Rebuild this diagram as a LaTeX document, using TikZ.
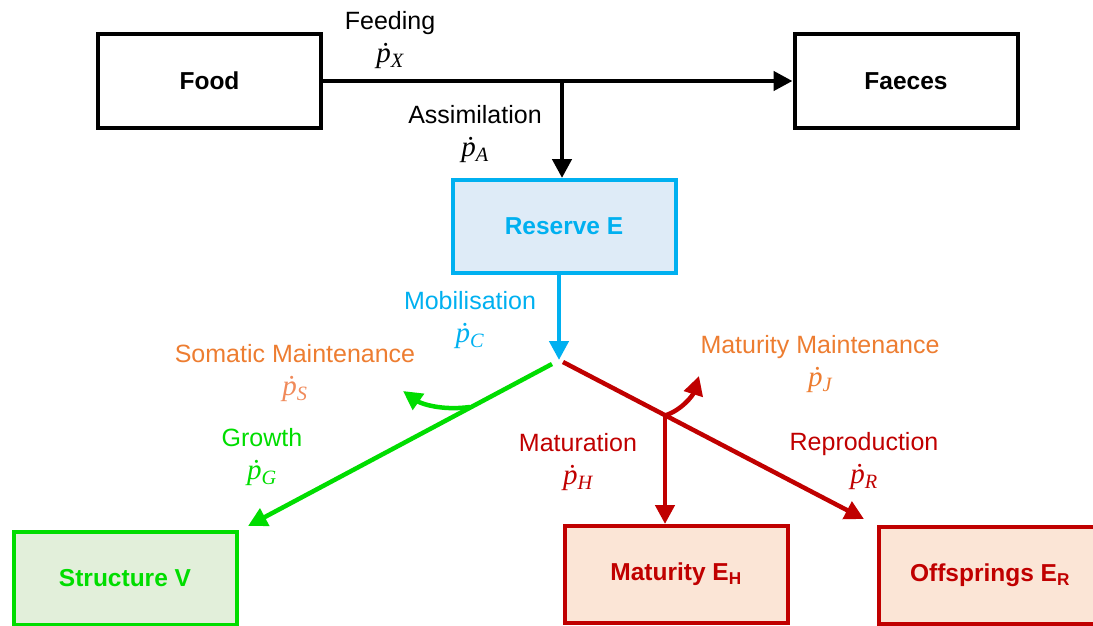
\documentclass[tikz,border=0pt]{standalone}
\usepackage{fontspec}
\setmainfont{Liberation Sans}
\newfontfamily\fluxfont{Liberation Serif}
\usetikzlibrary{arrows.meta}
\definecolor{cblue}{HTML}{00B0F0}
\definecolor{fblue}{HTML}{DEEBF7}
\definecolor{cgreen}{HTML}{00DD00}
\definecolor{fgreen}{HTML}{E2EFDA}
\definecolor{cred}{HTML}{C00000}
\definecolor{fred}{HTML}{FBE5D6}
\definecolor{corange}{HTML}{ED7D31}
\definecolor{csalmon}{HTML}{F08A5A}
\newcommand{\flux}[1]{{\fluxfont\itshape\fontsize{29}{29}\selectfont ṗ\textsubscript{#1}}}
\tikzset{
  box/.style={draw, line width=4pt, minimum width=223pt, minimum height=93pt, inner sep=0pt,
    font=\fontsize{24.5}{28}\selectfont\bfseries},
  lbl/.style={font=\fontsize{25}{33}\selectfont, inner sep=0pt, align=center},
  flow/.style={line width=4.5pt, -{Triangle[length=19pt,width=19pt]}},
}
\begin{document}
\begin{tikzpicture}[x=1pt,y=-1pt]
\useasboundingbox (0,0) rectangle (1093,626);
\clip (0,0) rectangle (1093,626);
% boxes
\node[box] (food) at (209.5,81) {Food};
\node[box] (faeces) at (906,81) {Faeces};
\node[box, draw=cblue, fill=fblue, text=cblue] (reserve) at (564,226.5) {Reserve E};
\node[box, draw=cgreen, fill=fgreen, text=cgreen] (structure) at (125,578.5) {Structure V};
\node[box, draw=cred, fill=fred, text=cred, minimum height=97pt] (maturity) at (676,574.5) {Maturity E\textsubscript{H}};
\node[box, draw=cred, fill=fred, text=cred, minimum height=97pt] (offspring) at (990,575.5) {Offsprings E\textsubscript{R}};
% coordinates
\coordinate (b) at (562,81);
\coordinate (j) at (559,360);
\coordinate (gs) at (552,364);
\coordinate (rs) at (563,362);
\coordinate (gt) at (248,526);
\coordinate (rt) at (864,519);
\coordinate (m) at (665,415.5);
\coordinate (sm) at (470,407);
\coordinate (smt) at (403,391);
\coordinate (mmt) at (699,376);
% connectors
\draw[flow] (food.east) -- (faeces.west);
\draw[flow] (b) -- (b |- reserve.north);
\draw[flow, cblue] (j |- reserve.south) -- (j);
\draw[flow, cgreen] (gs) -- (gt);
\draw[flow, cgreen] (sm) .. controls (440,411) and (420,403) .. (smt);
\draw[flow, cred] (rs) -- (rt);
\draw[flow, cred] (m) -- (m |- maturity.north);
\draw[flow, cred] (m) .. controls (682,410) and (693,395) .. (mmt);
% labels
\node[lbl] (lfeed) at (390,40) {Feeding\\\flux{X}};
\node[lbl] (lass) at (475,134) {Assimilation\\\flux{A}};
\node[lbl, text=cblue] (lmob) at (470,320) {Mobilisation\\\flux{C}};
\node[lbl, text=corange] (lsom) at (295,373) {Somatic Maintenance\\\textcolor{csalmon}{\flux{S}}};
\node[lbl, text=corange] (lmm) at (820,364) {Maturity Maintenance\\\flux{J}};
\node[lbl, text=cgreen] (lgro) at (262,457) {Growth\\\flux{G}};
\node[lbl, text=cred] (lmat) at (578,462) {Maturation\\\flux{H}};
\node[lbl, text=cred] (lrep) at (864,461) {Reproduction\\\flux{R}};
\end{tikzpicture}
\end{document}
